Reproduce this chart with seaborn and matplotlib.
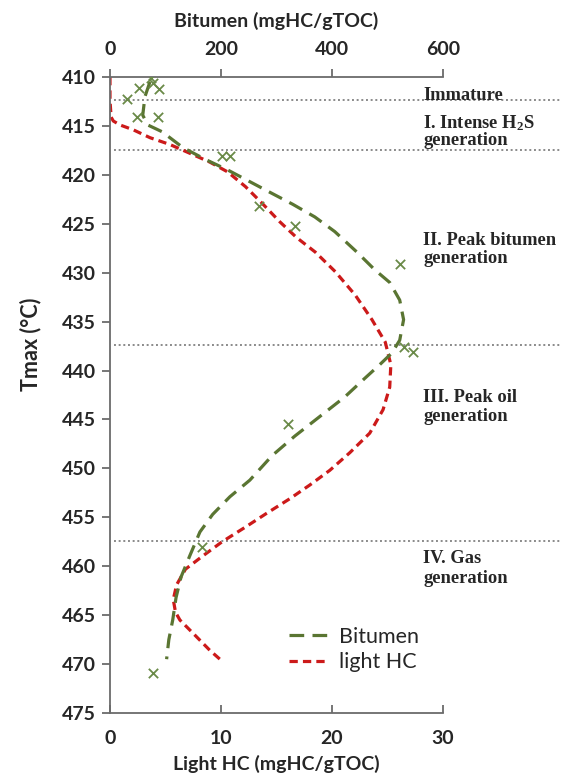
import matplotlib
matplotlib.use("Agg")
import matplotlib.pyplot as plt
import seaborn as sns
import pandas as pd

# ---------------- data ----------------
# Bitumen trend curve (mgHC/gTOC) vs Tmax
bitumen_T = [410.5, 412.0, 413.9, 414.9, 415.6, 417.2, 418.4, 419.5, 420.7, 421.9,
             423.0, 424.3, 425.8, 427.9, 429.7, 431.0, 432.8, 434.8, 436.9, 438.2,
             439.4, 440.8, 442.7, 444.7, 446.7, 448.7, 451.2, 452.9, 454.7, 456.5,
             458.9, 461.1, 463.2, 465.5, 467.5, 469.5]
bitumen_curve = [72, 63, 59, 68, 94, 131, 171, 212, 252, 292,
                 329, 369, 405, 445, 477, 504, 522, 529, 522, 508,
                 486, 459, 423, 378, 333, 292, 252, 216, 185, 162,
                 144, 128, 119, 113, 106, 102]

# Light HC trend curve (mgHC/gTOC) vs Tmax
lhc_T = [410.0, 412.4, 414.1, 414.5, 414.9, 415.4, 416.2, 416.9, 417.8, 418.7,
         419.7, 421.2, 422.9, 424.8, 426.4, 427.9, 429.9, 432.3, 434.8, 437.1,
         439.4, 441.7, 444.0, 446.4, 448.4, 450.2, 451.7, 453.1, 454.6, 456.0,
         457.5, 459.0, 460.3, 461.9, 463.4, 464.7, 465.5, 467.1, 468.6, 469.8]
lhc_curve = [0.0, 0.0, 0.1, 0.3, 0.9, 2.1, 3.6, 5.4, 7.2, 9.0,
             10.6, 12.2, 13.7, 15.3, 16.8, 18.5, 20.3, 22.1, 23.6, 24.8,
             25.3, 25.2, 24.6, 23.4, 21.6, 19.8, 18.0, 16.2, 14.1, 12.2,
             10.1, 8.3, 6.8, 6.0, 5.7, 5.9, 6.3, 7.7, 9.0, 10.2]

# Measured bitumen samples
pts_bit = [74, 78, 52, 88, 30, 48, 87, 201, 216, 269, 333, 523, 529, 546, 320, 165, 78]
pts_T = [410.1, 410.6, 411.1, 411.2, 412.2, 414.1, 414.1, 418.1, 418.1, 423.2,
         425.2, 429.1, 437.6, 438.1, 445.5, 458.0, 470.9]

# Stage boundaries and labels
stage_T = [412.3, 417.5, 437.4, 457.4]
stage_lines = ["Immature", "I. Intense H$_2$S", "generation",
               "II. Peak bitumen", "generation",
               "III. Peak oil", "generation",
               "IV. Gas", "generation"]
stage_line_T = [412.35, 415.2, 416.95, 427.2, 429.0, 443.2, 445.2, 459.7, 461.7]

xticks_lhc = [0, 10, 20, 30]
xticks_bit = [0, 200, 400, 600]
yticks = list(range(410, 476, 5))

# ---------------- style ----------------
sns.set_theme(style="white")
plt.rcParams['font.family'] = ['Lato', 'DejaVu Sans']
plt.rcParams['mathtext.fontset'] = 'custom'
plt.rcParams['mathtext.rm'] = 'Liberation Serif:bold'
plt.rcParams['mathtext.default'] = 'rm'

GREEN = '#5a7532'
XGREEN = '#6a8a48'
RED = '#cc1a1a'
AXC = '#6b6b6b'
TXT = '#262626'

fig = plt.figure(figsize=(5.62, 7.83), dpi=100)
ax = fig.add_axes([110 / 562, 1 - 713 / 783, 333 / 562, 636 / 783])
ax2 = ax.twiny()

df_lhc = pd.DataFrame({'x': lhc_curve, 'T': lhc_T})
df_bit = pd.DataFrame({'x': bitumen_curve, 'T': bitumen_T})
df_pts = pd.DataFrame({'x': pts_bit, 'T': pts_T})

sns.lineplot(data=df_lhc, x='x', y='T', orient='y', estimator=None, ax=ax,
             color=RED, lw=2.3, legend=False)
l_lhc = ax.get_lines()[-1]
l_lhc.set_dashes((2.6, 1.6))

sns.lineplot(data=df_bit, x='x', y='T', orient='y', estimator=None, ax=ax2,
             color=GREEN, lw=2.3, legend=False)
l_bit = ax2.get_lines()[-1]
l_bit.set_dashes((4.6, 2.6))

sns.scatterplot(data=df_pts, x='x', y='T', ax=ax2, marker='x', s=45,
                color=XGREEN, linewidth=1.3, legend=False, zorder=5)

ax.set_xlim(0, 30)
ax2.set_xlim(0, 600)
ax.set_ylim(475, 410)
ax.set_yticks(yticks)
ax.set_xticks(xticks_lhc)
ax2.set_xticks(xticks_bit)

for T in stage_T:
    ax.axhline(T, xmin=0.012, xmax=1.36, color='#8a8a8a', lw=1.4,
               dashes=(1.0, 1.4), clip_on=False, zorder=1)

for txt, T in zip(stage_lines, stage_line_T):
    ax.text(28.2, T, txt, fontfamily='Liberation Serif', fontweight='bold',
            fontsize=13.3, color=TXT, ha='left', va='baseline', clip_on=False)

# spines
for s in ['top', 'right']:
    ax.spines[s].set_visible(False)
for s in ['left', 'bottom', 'right']:
    ax2.spines[s].set_visible(False)
for s in ['left', 'bottom']:
    ax.spines[s].set_color(AXC)
    ax.spines[s].set_linewidth(1.3)
ax2.spines['top'].set_color(AXC)
ax2.spines['top'].set_linewidth(1.3)

ax.tick_params(axis='y', direction='out', length=6, width=1.3, color=AXC,
               labelsize=14, labelcolor=TXT, pad=4, left=True)
ax.tick_params(axis='x', direction='in', length=6, width=1.3, color=AXC,
               labelsize=14, labelcolor=TXT, pad=12, bottom=True)
ax2.tick_params(axis='x', direction='out', length=6, width=1.3, color=AXC,
                labelsize=14, labelcolor=TXT, pad=8, top=True)
for lab in ax.get_xticklabels() + ax.get_yticklabels() + ax2.get_xticklabels():
    lab.set_fontweight('bold')

ax.set_xlabel('Light HC (mgHC/gTOC)', fontsize=14, fontweight='bold', color=TXT)
ax2.set_xlabel('Bitumen (mgHC/gTOC)', fontsize=14, fontweight='bold', color=TXT)
ax.set_ylabel('Tmax (°C)', fontsize=15.5, fontweight='bold', color=TXT)
ax.xaxis.set_label_coords(0.5, -0.066)
ax2.xaxis.set_label_coords(0.5, 1.078)
ax.yaxis.set_label_coords(-0.205, 0.58)

ax2.legend(handles=[l_bit, l_lhc], labels=['Bitumen', 'light HC'],
           loc='center left', bbox_to_anchor=(0.48, 0.10), frameon=False,
           fontsize=15.5, handlelength=1.85, handletextpad=0.45,
           labelspacing=0.25, labelcolor=TXT)

fig.savefig('out.png', dpi=100)
